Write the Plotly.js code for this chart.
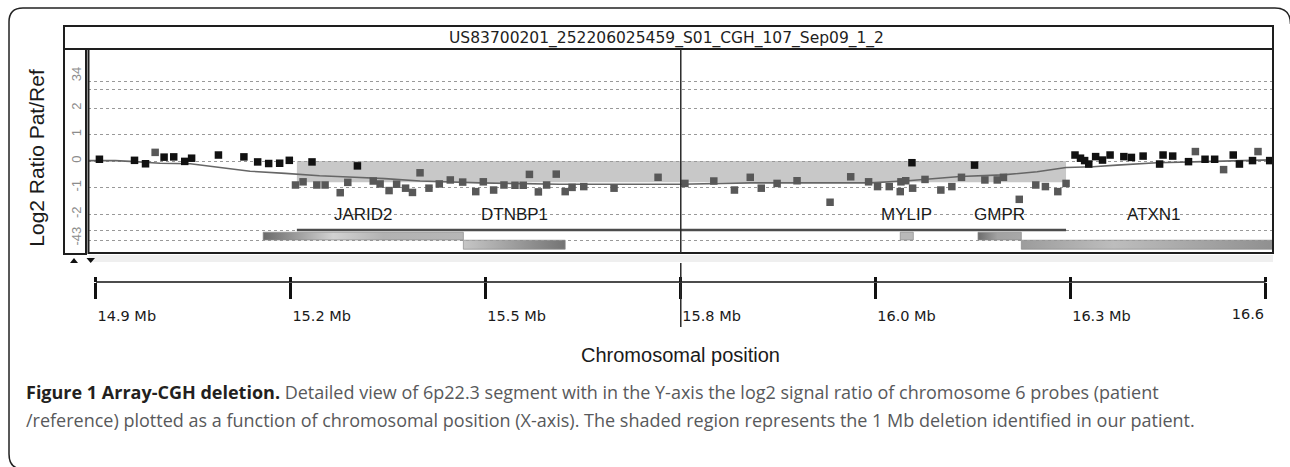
<!DOCTYPE html>
<html>
<head>
<meta charset="utf-8">
<script src="https://cdn.plot.ly/plotly-3.0.1.min.js"></script>
<style>
html,body{margin:0;padding:0;background:#fff;}
#chart{width:1290px;height:467px;}
</style>
</head>
<body>
<div id="chart"></div>
<script>
// ---------------- DATA ----------------
const chartTitle = 'US83700201_252206025459_S01_CGH_107_Sep09_1_2';

// probes drawn in black (normal copy number + a few inside the deletion)
const blackProbeMb = [14.905, 14.956, 14.972, 14.999, 15.013, 15.029, 15.039, 15.078, 15.115, 15.135,
  15.151, 15.167, 15.181, 15.214, 15.280, 16.086, 16.177,
  16.323, 16.331, 16.337, 16.343, 16.353, 16.363, 16.374, 16.394, 16.405, 16.422, 16.446, 16.451,
  16.465, 16.488, 16.512, 16.526, 16.553, 16.562, 16.581, 16.606];
const blackProbeLog2 = [0.07, 0.03, -0.10, 0.15, 0.16, -0.01, 0.11, 0.23, 0.16, -0.03,
  -0.09, -0.08, 0.03, -0.03, -0.18, -0.06, -0.15,
  0.23, 0.11, 0.02, -0.11, 0.17, 0.04, 0.23, 0.17, 0.14, 0.19, -0.11, 0.23,
  0.19, -0.02, 0.07, 0.07, 0.23, -0.11, 0.02, 0.02];

// probes drawn in dark grey (mostly the deleted ones)
const grayProbeMb = [14.986, 15.190, 15.201, 15.221, 15.233, 15.255, 15.266, 15.303, 15.313, 15.326,
  15.337, 15.350, 15.360, 15.371, 15.384, 15.399, 15.415, 15.433, 15.452, 15.463,
  15.478, 15.493, 15.509, 15.521, 15.530, 15.543, 15.555, 15.569, 15.582, 15.592,
  15.609, 15.653, 15.717, 15.756, 15.798, 15.828, 15.851, 15.867, 15.890, 15.919,
  15.967, 15.997, 16.023, 16.036, 16.053, 16.069, 16.070, 16.077, 16.087, 16.105,
  16.128, 16.144, 16.158, 16.192, 16.210, 16.219, 16.242, 16.266, 16.280, 16.298,
  16.310, 16.498, 16.539, 16.589];
const grayProbeLog2 = [0.33, -0.90, -0.78, -0.90, -0.90, -1.19, -0.80, -0.75, -0.86, -1.11,
  -0.87, -1.02, -1.18, -0.44, -1.02, -0.86, -0.71, -0.79, -1.15, -0.78,
  -1.09, -0.90, -0.91, -0.91, -0.50, -1.16, -0.90, -0.49, -1.15, -0.99,
  -0.96, -1.02, -0.61, -0.84, -0.75, -1.09, -0.61, -1.02, -0.84, -0.74,
  -1.55, -0.59, -0.78, -0.96, -0.96, -1.15, -0.78, -0.74, -1.02, -0.69,
  -1.09, -0.96, -0.61, -0.71, -0.71, -0.61, -1.44, -0.90, -0.96, -1.15,
  -0.84, 0.36, -0.32, 0.36];

// moving-average trend line
const trendMb = [14.888, 14.928, 14.957, 14.993, 15.037, 15.069, 15.124, 15.175, 15.225, 15.276,
  15.320, 15.371, 15.458, 15.574, 15.749, 15.851, 15.984, 16.025, 16.080, 16.119,
  16.156, 16.218, 16.268, 16.310, 16.349, 16.384, 16.442, 16.509, 16.611];
const trendLog2 = [0.02, 0.02, -0.02, -0.08, -0.10, -0.20, -0.38, -0.46, -0.55, -0.61,
  -0.66, -0.75, -0.82, -0.87, -0.87, -0.82, -0.82, -0.82, -0.74, -0.65,
  -0.58, -0.52, -0.40, -0.24, -0.21, -0.15, -0.06, -0.02, 0.05];

// called deletion
const deletionStartMb = 15.192;
const deletionEndMb = 16.310;
const deletionMeanLog2 = -0.80;

// genes
const geneNames = ['JARID2', 'DTNBP1', 'MYLIP', 'GMPR', 'ATXN1'];
const geneStartMb = [15.143, 15.434, 16.069, 16.182, 16.245];
const geneEndMb = [15.434, 15.582, 16.088, 16.245, 16.630];
const geneTrack = [0, 1, 0, 0, 1];

// axis ticks
const yTickLabels = ['-43', '-2', '-1', '0', '1', '2', '34'];
const rulerTickMb = [14.9, 15.1833, 15.4667, 15.75, 16.0333, 16.3167, 16.6];
const rulerTickLabels = ['14.9 Mb', '15.2 Mb', '15.5 Mb', '15.8 Mb', '16.0 Mb', '16.3 Mb', '16.6'];
const cursorMb = 15.75;

const captionBold = 'Figure 1 Array-CGH deletion.';
const captionLine1 = ' Detailed view of 6p22.3 segment with in the Y-axis the log2 signal ratio of chromosome 6 probes (patient';
const captionLine2 = '/reference) plotted as a function of chromosomal position (X-axis). The shaded region represents the 1 Mb deletion identified in our patient.';

// ---------------- GEOMETRY / STYLE ----------------
const W = 1290, H = 467;
const px = x => x / W;
const py = y => 1 - y / H;
const xRange = [14.8884, 16.6108];
const yRange = [-3.463, 4.226];          // plot area 49..253 px
const yLabelRange = [-3.727, 3.962];     // label axis 56..260 px (same scale)
// display positions of the (compressed) grid lines and labels
const gridPos = [-2.973, -2.623, -2, -1, 0, 1, 2, 2.681, 2.994];
const yTickPos = [-2.90, -2, -1, 0, 1, 2, 3.21];
const trackTop = [-2.68, -2.98];
const trackBottom = [-2.97, -3.32];
const geneScales = [
  [[0, '#6a6a6a'], [0.35, '#d2d2d2'], [0.6, '#b2b2b2'], [1, '#b6b6b6']],
  [[0, '#c6c6c6'], [1, '#747474']],
  [[0, '#b9b9b9'], [1, '#b9b9b9']],
  [[0, '#6c6c6c'], [0.45, '#a2a2a2'], [1, '#a8a8a8']],
  [[0, '#9c9c9c'], [0.35, '#bdbdbd'], [1, '#8c8c8c']]
];

const traces = [];

// gene bars
geneNames.forEach((g, i) => {
  const t = geneTrack[i];
  traces.push({
    type: 'scatter', mode: 'lines',
    x: [geneStartMb[i], geneEndMb[i], geneEndMb[i], geneStartMb[i], geneStartMb[i]],
    y: [trackTop[t], trackTop[t], trackBottom[t], trackBottom[t], trackTop[t]],
    fill: 'toself',
    fillgradient: {type: 'horizontal', colorscale: geneScales[i]},
    line: {color: '#8a8a8a', width: 0.7},
    hoverinfo: 'text', text: g, showlegend: false
  });
});

// trend
traces.push({
  type: 'scatter', mode: 'lines', x: trendMb, y: trendLog2,
  line: {color: '#666666', width: 1.6}, hoverinfo: 'skip', showlegend: false
});
// probes
traces.push({
  type: 'scatter', mode: 'markers', x: grayProbeMb, y: grayProbeLog2,
  marker: {symbol: 'square', size: 7.5, color: '#585858'}, showlegend: false
});
traces.push({
  type: 'scatter', mode: 'markers', x: blackProbeMb, y: blackProbeLog2,
  marker: {symbol: 'square', size: 7.5, color: '#111111'}, showlegend: false
});
// empty traces so the extra axes exist
traces.push({type: 'scatter', x: [], y: [], xaxis: 'x', yaxis: 'y2', showlegend: false, hoverinfo: 'skip'});
traces.push({type: 'scatter', x: [], y: [], xaxis: 'x2', yaxis: 'y', showlegend: false, hoverinfo: 'skip'});
traces.push({type: 'scatter', x: [], y: [], xaxis: 'x3', yaxis: 'y', showlegend: false, hoverinfo: 'skip'});

function pathPx(cmds) {
  return cmds.map(c => {
    if (c[0] === 'Z') return 'Z';
    let s = c[0] + ' ' + px(c[1]).toFixed(5) + ',' + py(c[2]).toFixed(5);
    if (c.length > 3) s += ' ' + px(c[3]).toFixed(5) + ',' + py(c[4]).toFixed(5);
    return s;
  }).join(' ');
}

const darkLine = '#1e1e1e';
const shapes = [
  // deletion shading
  {type: 'rect', xref: 'x', yref: 'y', x0: deletionStartMb, x1: deletionEndMb, y0: deletionMeanLog2, y1: 0,
   fillcolor: '#c8c8c8', line: {width: 0}, layer: 'below'},
  // deletion extent bar
  {type: 'line', xref: 'x', yref: 'y', x0: deletionStartMb, x1: deletionEndMb, y0: -2.60, y1: -2.60,
   line: {color: '#4c4c4c', width: 2.5}},
  // outer frame
  {type: 'path', xref: 'paper', yref: 'paper', layer: 'above',
   path: pathPx([['M', 1275, 8], ['L', 23, 8], ['Q', 9, 8, 9, 22], ['L', 9, 454], ['Q', 9, 469, 23, 469], ['L', 1291, 469]]),
   line: {color: '#222', width: 1.5}},
  {type: 'path', xref: 'paper', yref: 'paper', layer: 'above',
   path: pathPx([['M', 1275, 8], ['Q', 1290.5, 8, 1290.5, 24]]), line: {color: '#222', width: 1.5}},
  // header box
  {type: 'rect', xref: 'paper', yref: 'paper', x0: px(64), x1: px(1273), y0: py(49), y1: py(26),
   line: {color: darkLine, width: 2}, layer: 'above'},
  // y label strip
  {type: 'rect', xref: 'paper', yref: 'paper', x0: px(64), x1: px(86), y0: py(254), y1: py(49),
   line: {color: darkLine, width: 2}, layer: 'above'},
  // plot box
  {type: 'rect', xref: 'paper', yref: 'paper', x0: px(88.5), x1: px(1273), y0: py(253), y1: py(49),
   line: {color: darkLine, width: 2}, layer: 'above'},
  // scroll strip
  {type: 'rect', xref: 'paper', yref: 'paper', x0: px(89), x1: px(1273), y0: py(262), y1: py(255),
   fillcolor: '#efefef', line: {width: 0}, layer: 'above'},
  // small triangles
  {type: 'path', xref: 'paper', yref: 'paper', path: pathPx([['M', 70, 263], ['L', 78, 263], ['L', 74, 258], ['Z']]),
   fillcolor: '#111', line: {width: 0}},
  {type: 'path', xref: 'paper', yref: 'paper', path: pathPx([['M', 86.5, 258], ['L', 95, 258], ['L', 90.7, 263], ['Z']]),
   fillcolor: '#111', line: {width: 0}},
  // ruler line
  {type: 'line', xref: 'x', yref: 'paper', x0: rulerTickMb[0], x1: rulerTickMb[rulerTickMb.length - 1],
   y0: py(282), y1: py(282), line: {color: '#111', width: 1.5}},
  // cursor line
  {type: 'line', xref: 'x', yref: 'paper', x0: cursorMb, x1: cursorMb, y0: py(253), y1: py(49),
   line: {color: '#2a2a2a', width: 1.5}, layer: 'above'},
  {type: 'line', xref: 'x', yref: 'paper', x0: cursorMb, x1: cursorMb, y0: py(327), y1: py(263),
   line: {color: '#2a2a2a', width: 1.5}, layer: 'above'}
];

const geneFont = {family: 'Liberation Sans, Arial, sans-serif', size: 17, color: '#1a1a1a'};
const annotations = geneNames.map((g, i) => ({
  x: (geneStartMb[i] + geneEndMb[i]) / 2, y: -2, xref: 'x', yref: 'y',
  text: g, showarrow: false, font: geneFont, xanchor: 'center', yanchor: 'middle'
}));
annotations.push({
  xref: 'paper', yref: 'paper', x: px(24), y: py(392), xanchor: 'left', yanchor: 'middle', showarrow: false,
  text: '<b>' + captionBold + '</b><span style="color:#58595b">' + captionLine1 + '</span>',
  font: {family: 'Open Sans, sans-serif', size: 18, color: '#231f20'}
});
annotations.push({
  xref: 'paper', yref: 'paper', x: px(24), y: py(420), xanchor: 'left', yanchor: 'middle', showarrow: false,
  text: captionLine2,
  font: {family: 'Open Sans, sans-serif', size: 18, color: '#58595b'}
});

const rulerFont = {family: 'DejaVu Sans, Verdana, sans-serif', size: 14.5, color: '#1a1a1a'};
const layout = {
  width: W, height: H,
  margin: {l: 0, r: 0, t: 0, b: 0, pad: 0},
  paper_bgcolor: '#ffffff', plot_bgcolor: 'rgba(0,0,0,0)',
  showlegend: false,
  title: {
    text: chartTitle, x: px(666.5), xanchor: 'center', y: py(38), yanchor: 'middle',
    xref: 'paper', yref: 'container',
    font: {family: 'DejaVu Sans, Verdana, sans-serif', size: 15.5, color: '#1e1e1e'}
  },
  xaxis: {
    domain: [px(88), px(1273)], range: xRange, anchor: 'y',
    showgrid: false, zeroline: false, showticklabels: false, ticks: '', showline: false, automargin: false
  },
  xaxis2: {
    overlaying: 'x', anchor: 'free', position: py(282), side: 'bottom', range: xRange,
    tickmode: 'array', tickvals: rulerTickMb,
    ticktext: rulerTickLabels.map((t, i) => i === rulerTickLabels.length - 1 ? '' : t),
    ticks: 'outside', ticklen: 16, tickwidth: 3, tickcolor: '#111',
    ticklabelposition: 'outside right', ticklabelstandoff: 21, tickfont: rulerFont,
    showgrid: false, zeroline: false, showline: false, automargin: false,
    title: {text: 'Chromosomal position', standoff: 24,
            font: {family: 'Liberation Sans, Arial, sans-serif', size: 20, color: '#1a1a1a'}}
  },
  xaxis3: {
    overlaying: 'x', anchor: 'free', position: py(282), side: 'bottom', range: xRange,
    tickmode: 'array', tickvals: rulerTickMb,
    ticktext: rulerTickLabels.map((t, i) => i === rulerTickLabels.length - 1 ? t : ''),
    ticks: 'inside', ticklen: 5, tickwidth: 3, tickcolor: '#111',
    ticklabelposition: 'outside left', ticklabelstandoff: 21, tickfont: rulerFont,
    showgrid: false, zeroline: false, showline: false, automargin: false
  },
  yaxis: {
    domain: [py(253), py(49)], range: yRange, anchor: 'x',
    tickmode: 'array', tickvals: gridPos, showticklabels: false, ticks: '',
    showgrid: true, gridcolor: '#999999', gridwidth: 1, griddash: '3px,3px',
    zeroline: false, showline: false, automargin: false
  },
  yaxis2: {
    domain: [py(260), py(56)], anchor: 'x', side: 'left', range: yLabelRange,
    tickmode: 'array', tickvals: yTickPos, ticktext: yTickLabels, tickangle: -90,
    tickfont: {family: 'Liberation Sans, Arial, sans-serif', size: 13, color: '#8c8c8c'},
    ticks: '', showgrid: false, zeroline: false, showline: false, automargin: false,
    ticklabelstandoff: 3,
    title: {text: 'Log2 Ratio Pat/Ref', standoff: 19,
            font: {family: 'Liberation Sans, Arial, sans-serif', size: 21, color: '#1a1a1a'}}
  },
  shapes: shapes,
  annotations: annotations
};

Plotly.newPlot('chart', traces, layout, {displayModeBar: false, staticPlot: true});
</script>
</body>
</html>
